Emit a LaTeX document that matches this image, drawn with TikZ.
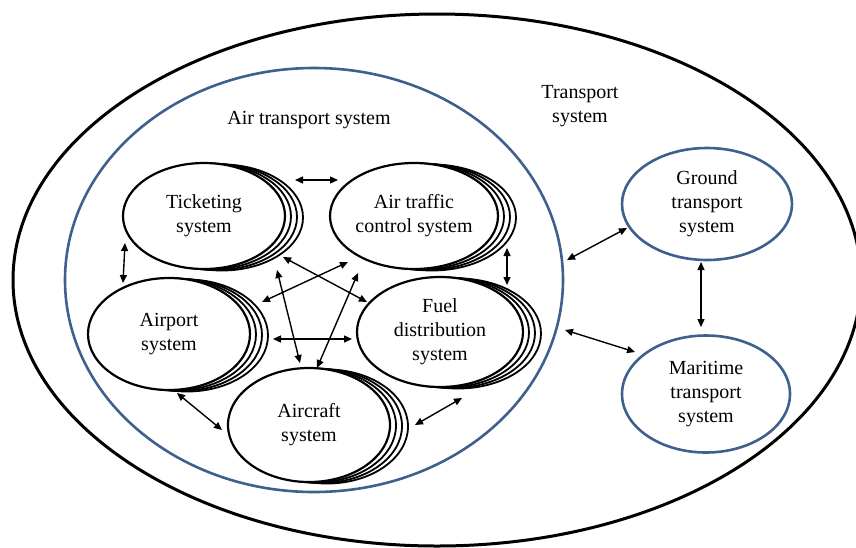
\documentclass[tikz,border=0pt]{standalone}
\usepackage{fontspec}
\setmainfont{Liberation Serif}
\usetikzlibrary{shapes.geometric,shadows,arrows.meta}
\definecolor{ringblue}{RGB}{62,96,140}
\begin{document}
\begin{tikzpicture}[x=1pt,y=-1pt,
  every node/.style={font=\fontsize{20}{24}\selectfont, align=center},
  stack/.style={ellipse, draw, line width=2.2pt, fill=white, inner sep=0pt,
     copy shadow={shadow xshift=18pt, shadow yshift=-1.5pt, line width=1.8pt},
     copy shadow={shadow xshift=12pt, shadow yshift=-1pt, line width=1.8pt},
     copy shadow={shadow xshift=6pt, shadow yshift=-0.5pt, line width=1.8pt}},
  sub/.style={ellipse, draw=ringblue, line width=2.6pt, inner sep=0pt},
  link/.style={{Triangle[length=8pt,width=7pt]}-{Triangle[length=8pt,width=7pt]}, line width=1.4pt},
  caption/.style={inner sep=0pt}
]
\useasboundingbox (0,0) rectangle (856,547);

% enclosing systems
\node[ellipse, draw, line width=3pt, minimum width=848pt, minimum height=532pt] (transport) at (437,280) {};
\node[ellipse, draw=ringblue, line width=2.6pt, minimum width=498pt, minimum height=424pt] (air) at (314,280) {};

\node[caption] (transportlbl) at (580,106) {Transport\\system};
\node[caption] (airlbl) at (309,120) {Air transport system};

% air transport subsystems (stacked ellipses)
\node[stack, minimum width=162pt, minimum height=106pt] (tick) at (204,216) {Ticketing\\system};
\node[stack, minimum width=168pt, minimum height=106pt] (atc) at (414,216) {Air traffic\\control system};
\node[stack, minimum width=162pt, minimum height=112pt] (port) at (169,334) {Airport\\system};
\node[stack, minimum width=166pt, minimum height=110pt] (fuel) at (440,332) {Fuel\\distribution\\system};
\node[stack, minimum width=162pt, minimum height=114pt] (craft) at (309,425) {Aircraft\\system};

% other transport systems
\node[sub, minimum width=170pt, minimum height=112pt] (ground) at (707,204) {Ground\\transport\\system};
\node[sub, minimum width=168pt, minimum height=117pt] (sea) at (706,394) {Maritime\\transport\\system};

% connector end points
\coordinate (tk-atc-1) at (295,180);  \coordinate (tk-atc-2) at (338,180);
\coordinate (tk-pt-1)  at (125,243);  \coordinate (tk-pt-2)  at (123,283);
\coordinate (atc-fu-1) at (507,248);  \coordinate (atc-fu-2) at (507,285);
\coordinate (tk-fu-1)  at (283,257);  \coordinate (tk-fu-2)  at (367,302);
\coordinate (atc-pt-1) at (348,262);  \coordinate (atc-pt-2) at (262,302);
\coordinate (tk-cr-1)  at (277,270);  \coordinate (tk-cr-2)  at (300,363);
\coordinate (atc-cr-1) at (358,273);  \coordinate (atc-cr-2) at (317,368);
\coordinate (pt-fu-1)  at (273,339);  \coordinate (pt-fu-2)  at (352,339);
\coordinate (pt-cr-1)  at (177,393);  \coordinate (pt-cr-2)  at (222,430);
\coordinate (fu-cr-1)  at (462,398);  \coordinate (fu-cr-2)  at (415,425);
\coordinate (air-gr)   at (567,260);  \coordinate (gr-air)   at (627,228);
\coordinate (air-sea)  at (565,330);  \coordinate (sea-air)  at (635,352);
\coordinate (gr-sea)   at (701,262);  \coordinate (sea-gr)   at (701,327);

% connectors
\draw[link] (tk-atc-1) -- (tk-atc-2);
\draw[link] (tk-pt-1) -- (tk-pt-2);
\draw[link] (atc-fu-1) -- (atc-fu-2);
\draw[link] (tk-fu-1) -- (tk-fu-2);
\draw[link] (atc-pt-1) -- (atc-pt-2);
\draw[link] (tk-cr-1) -- (tk-cr-2);
\draw[link] (atc-cr-1) -- (atc-cr-2);
\draw[link] (pt-fu-1) -- (pt-fu-2);
\draw[link] (pt-cr-1) -- (pt-cr-2);
\draw[link] (fu-cr-1) -- (fu-cr-2);
\draw[link] (air-gr) -- (gr-air);
\draw[link] (air-sea) -- (sea-air);
\draw[link] (gr-sea) -- (sea-gr);
\end{tikzpicture}
\end{document}
